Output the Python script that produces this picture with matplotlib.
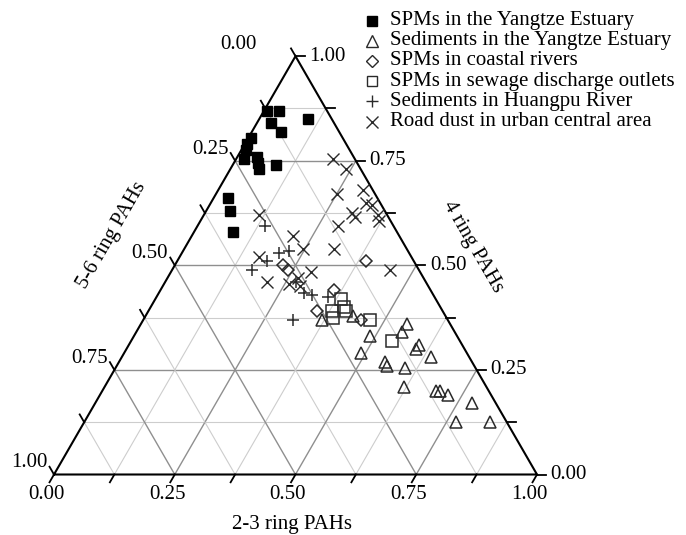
import numpy as np
import matplotlib
matplotlib.use('Agg')
import matplotlib.pyplot as plt

plt.rcParams['font.family'] = ['Liberation Serif', 'DejaVu Serif']

# ---------------- data: fractions of 2-3 ring (a) and 4 ring (b) PAHs ----------------
spm_yangtze_23 = [0.005, 0.03, 0.10, 0.03, 0.06, 0.005, 0.005, 0.01, 0.015, 0.04, 0.05, 0.06, 0.09, 0.03, 0.05, 0.08]
spm_yangtze_4 = [0.87, 0.87, 0.85, 0.84, 0.82, 0.805, 0.79, 0.775, 0.755, 0.76, 0.745, 0.73, 0.74, 0.66, 0.63, 0.58]

sed_yangtze_23 = [0.37, 0.43, 0.49, 0.49, 0.55, 0.55, 0.60, 0.60, 0.64, 0.55, 0.56, 0.60, 0.62, 0.69, 0.70, 0.72, 0.78, 0.77, 0.84]
sed_yangtze_4 = [0.37, 0.38, 0.33, 0.29, 0.34, 0.36, 0.31, 0.30, 0.28, 0.27, 0.26, 0.255, 0.21, 0.20, 0.20, 0.19, 0.17, 0.126, 0.126]

spm_coastal_23 = [0.225, 0.24, 0.36, 0.35, 0.45, 0.39]
spm_coastal_4 = [0.50, 0.49, 0.44, 0.39, 0.37, 0.51]

spm_sewage_23 = [0.385, 0.40, 0.38, 0.39, 0.47, 0.54, 0.41]
spm_sewage_4 = [0.42, 0.40, 0.39, 0.375, 0.37, 0.32, 0.39]

sed_huangpu_23 = [0.14, 0.20, 0.22, 0.185, 0.165, 0.32, 0.31, 0.355, 0.27, 0.30]
sed_huangpu_4 = [0.595, 0.53, 0.535, 0.51, 0.49, 0.43, 0.37, 0.425, 0.46, 0.435]

road_dust_23 = [0.20, 0.24, 0.25, 0.30, 0.32, 0.335, 0.305, 0.315, 0.36, 0.37, 0.29, 0.31, 0.45,
                0.115, 0.21, 0.245, 0.165, 0.21, 0.29, 0.27, 0.285, 0.26]
road_dust_4 = [0.755, 0.73, 0.67, 0.68, 0.65, 0.645, 0.625, 0.615, 0.62, 0.605, 0.595, 0.54, 0.49,
               0.62, 0.57, 0.54, 0.52, 0.46, 0.485, 0.47, 0.45, 0.455]

series_labels = ['SPMs in the Yangtze Estuary', 'Sediments in the Yangtze Estuary',
                 'SPMs in coastal rivers', 'SPMs in sewage discharge outlets',
                 'Sediments in Huangpu River', 'Road dust in urban central area']
tick_values = [0.0, 0.25, 0.5, 0.75, 1.0]
tick_labels = ['0.00', '0.25', '0.50', '0.75', '1.00']

# ---------------- helpers ----------------
S3 = np.sqrt(3) / 2


def tern(a, b):
    a = np.asarray(a, dtype=float)
    b = np.asarray(b, dtype=float)
    return a + b / 2, b * S3


fig = plt.figure(figsize=(6.86, 5.35), dpi=100)
ax = fig.add_axes([0, 0, 1, 1])
SC = 483.0
ax.set_xlim(-54 / SC, (686 - 54) / SC)
ax.set_ylim((474.5 - 535) / SC, 474.5 / SC)
ax.axis('off')

# grid
for k in range(1, 8):
    v = k / 8
    major = (k % 2 == 0)
    col = '#8f8f8f' if major else '#cdcdcd'
    lw = 1.0 if major else 0.8
    for (a0, b0, a1, b1) in [(0, v, 1 - v, v), (v, 0, v, 1 - v), (1 - v, 0, 0, 1 - v)]:
        xs, ys = tern([a0, a1], [b0, b1])
        ax.plot(xs, ys, color=col, lw=lw, zorder=1, solid_capstyle='butt')

# outline
xs, ys = tern([0, 1, 0, 0], [0, 0, 1, 0])
ax.plot(xs, ys, color='black', lw=1.5, zorder=3, solid_joinstyle='miter')

# ticks
L = 9 / SC
for k in range(9):
    v = k / 8
    x0, y0 = tern(v, 0)
    ax.plot([x0, x0 - 0.5 * L], [y0, y0 - S3 * L], color='black', lw=1.3, zorder=3)
    x0, y0 = tern(1 - v, v)
    ax.plot([x0, x0 + L], [y0, y0], color='black', lw=1.3, zorder=3)
    x0, y0 = tern(0, 1 - v)
    ax.plot([x0, x0 - 0.5 * L], [y0, y0 + S3 * L], color='black', lw=1.3, zorder=3)

FS = 15
for v, lab in zip(tick_values, tick_labels):
    x0, y0 = tern(v, 0)
    ax.text(x0 - 0.016, y0 - 0.042, lab, ha='center', va='center', fontsize=FS)
    x0, y0 = tern(1 - v, v)
    ax.text(x0 + 0.028, y0, lab, ha='left', va='center', fontsize=FS)
    x0, y0 = tern(0, 1 - v)
    dx = -0.080 if v == 0.0 else -0.014
    ax.text(x0 + dx, y0 + 0.024, lab, ha='right', va='center', fontsize=FS)

ax.text((292 - 54) / SC, (474.5 - 525) / SC, '2-3 ring PAHs', ha='center', va='center', fontsize=FS)
ax.text((112 - 54) / SC, (474.5 - 235) / SC, '5-6 ring PAHs', ha='center', va='center',
        fontsize=FS, rotation=60, rotation_mode='anchor')
ax.text((473 - 54) / SC, (474.5 - 247) / SC, '4 ring PAHs', ha='center', va='center',
        fontsize=FS, rotation=-60, rotation_mode='anchor')

EC = '#2a2a2a'
styles = [
    dict(marker='s', ms=7.3, mfc='black', mec='black', mew=1.0),
    dict(marker='^', ms=9, mfc='none', mec=EC, mew=1.1),
    dict(marker='D', ms=6.5, mfc='none', mec=EC, mew=1.1),
    dict(marker='s', ms=8, mfc='none', mec=EC, mew=1.1),
    dict(marker='+', ms=8.5, mfc='none', mec=EC, mew=1.1),
    dict(marker='x', ms=9, mfc='none', mec=EC, mew=1.0),
]
datasets = [(spm_yangtze_23, spm_yangtze_4), (sed_yangtze_23, sed_yangtze_4),
            (spm_coastal_23, spm_coastal_4), (spm_sewage_23, spm_sewage_4),
            (sed_huangpu_23, sed_huangpu_4), (road_dust_23, road_dust_4)]
for (a, b), st in zip(datasets, styles):
    x, y = tern(a, b)
    ax.plot(x, y, ls='none', zorder=4, **st)

# legend (manual)
leg_styles = [
    dict(marker='s', ms=7, mfc='black', mec='black', mew=1.0),
    dict(marker='^', ms=8, mfc='none', mec=EC, mew=1.0),
    dict(marker='D', ms=6, mfc='none', mec=EC, mew=1.0),
    dict(marker='s', ms=7, mfc='none', mec=EC, mew=1.0),
    dict(marker='+', ms=8, mfc='none', mec=EC, mew=1.0),
    dict(marker='x', ms=8, mfc='none', mec=EC, mew=1.0),
]
for i, (lab, st) in enumerate(zip(series_labels, leg_styles)):
    py = 20.5 + 20.2 * i
    fy = 1 - py / 535
    fig.lines.append(plt.Line2D([372 / 686], [fy], transform=fig.transFigure, ls='none', **st))
    fig.text(390 / 686, fy, lab, ha='left', va='center', fontsize=FS)

fig.savefig('out.png', dpi=100)
